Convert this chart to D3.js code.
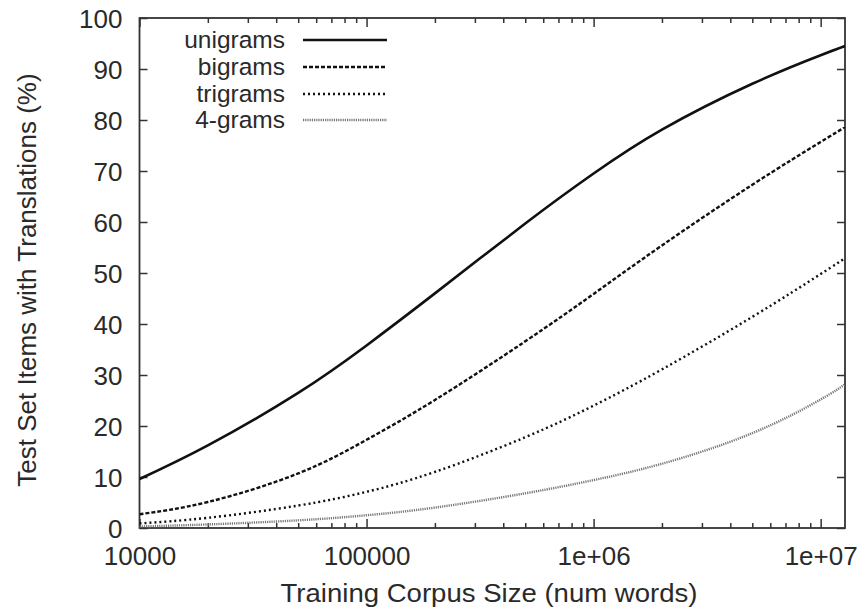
<!DOCTYPE html>
<html><head><meta charset="utf-8">
<script src="https://cdn.jsdelivr.net/npm/d3@7"></script>
<style>body{margin:0;background:#fff}svg{display:block}text{font-family:"Liberation Sans",Arial,Helvetica,sans-serif;fill:#2a2a2a}</style>
</head><body><svg id="c" width="866" height="611"></svg>
<script>
const sizes = [10000, 20000, 50000, 100000, 200000, 500000, 1000000, 2000000, 5000000, 10000000, 12800000];
const unigrams = [9.6, 16.2, 26.5, 35.8, 46.0, 59.7, 69.5, 78.1, 87.1, 92.7, 94.5];
const bigrams  = [2.7, 5.1, 10.7, 17.3, 25.1, 36.6, 45.9, 55.4, 67.3, 75.7, 78.6];
const trigrams = [0.9, 2.0, 4.4, 7.1, 11.0, 17.8, 24.0, 31.1, 41.4, 49.8, 52.9];
const fourgrams= [0.3, 0.7, 1.5, 2.5, 4.0, 6.8, 9.4, 12.6, 18.6, 25.2, 28.2];
const seriesNames = ["unigrams", "bigrams", "trigrams", "4-grams"];
const xMajor = [10000, 100000, 1000000, 10000000];
const xMajorLabels = ["10000", "100000", "1e+06", "1e+07"];
const yTicks = [0,10,20,30,40,50,60,70,80,90,100];

const FS = 26;
const L = 139.5, R = 845, T = 18, B = 528;
const svg = d3.select("#c");
const x = d3.scaleLog().domain([10000, 12800000]).range([L, R]);
const y = d3.scaleLinear().domain([0, 100]).range([B, T]);

const xMinor = [];
[10000, 100000, 1000000, 10000000].forEach(d => { for (let k = 2; k <= 9; k++) if (d*k <= 12800000) xMinor.push(d*k); });

const frameColor = "#333";
function styleAxis(g){ g.select(".domain").remove(); g.selectAll("line").attr("stroke", frameColor).attr("stroke-width", 1.5); }

svg.append("g").attr("transform", `translate(0,${B})`)
  .call(d3.axisBottom(x).tickValues(xMajor).tickSize(-9).tickPadding(0).tickFormat((d,i)=>xMajorLabels[i]))
  .call(styleAxis)
  .call(g => g.selectAll("text").attr("y", 37).attr("dy", 0).attr("font-size", FS).attr("fill", "#2a2a2a").attr("font-family", null));
svg.append("g").attr("transform", `translate(0,${B})`).call(d3.axisBottom(x).tickValues(xMinor).tickSize(-5).tickFormat("")).call(styleAxis);
svg.append("g").attr("transform", `translate(0,${T})`).call(d3.axisTop(x).tickValues(xMajor).tickSize(-9).tickFormat("")).call(styleAxis);
svg.append("g").attr("transform", `translate(0,${T})`).call(d3.axisTop(x).tickValues(xMinor).tickSize(-5).tickFormat("")).call(styleAxis);
svg.append("g").attr("transform", `translate(${L},0)`)
  .call(d3.axisLeft(y).tickValues(yTicks).tickSize(-8).tickPadding(0))
  .call(styleAxis)
  .call(g => g.selectAll("text").attr("x", -17).attr("dy", "0.36em").attr("font-size", FS).attr("fill", "#2a2a2a").attr("font-family", null));
svg.append("g").attr("transform", `translate(${R},0)`).call(d3.axisRight(y).tickValues(yTicks).tickSize(-8).tickFormat("")).call(styleAxis);

svg.append("rect").attr("x", L).attr("y", T).attr("width", R-L).attr("height", B-T)
  .attr("fill", "none").attr("stroke", frameColor).attr("stroke-width", 1.8);

svg.append("text").attr("transform", `translate(489,602) scale(1.06,1)`).attr("text-anchor", "middle").attr("font-size", FS).text("Training Corpus Size (num words)");
svg.append("text").attr("transform", `translate(36,280) rotate(-90)`).attr("text-anchor", "middle").attr("font-size", FS).text("Test Set Items with Translations (%)");

const styles = [
  {data: unigrams, color: "#111", width: 2.6, dash: null},
  {data: bigrams, color: "#111", width: 2.4, dash: "4,2"},
  {data: trigrams, color: "#111", width: 2.4, dash: "2,3"},
  {data: fourgrams, color: "#777", width: 2.4, dash: "1.2,1"}
];
const line = d3.line().x(d => x(d[0])).y(d => y(d[1])).curve(d3.curveNatural);
svg.append("clipPath").attr("id", "pc").append("rect").attr("x", L).attr("y", T).attr("width", R-L).attr("height", B-T);
styles.forEach(s => {
  svg.append("path").attr("clip-path", "url(#pc)")
    .attr("d", line(sizes.map((v,i)=>[v, s.data[i]])))
    .attr("fill", "none").attr("stroke", s.color).attr("stroke-width", s.width)
    .attr("stroke-dasharray", s.dash);
});

const legY = [40, 67, 94, 120];
seriesNames.forEach((n,i) => {
  svg.append("text").attr("transform", `translate(285,${legY[i]})`).attr("text-anchor", "end").attr("dy", "0.34em").attr("font-size", 24.5).text(n);
  svg.append("line").attr("x1", 303).attr("x2", 387).attr("y1", legY[i]).attr("y2", legY[i])
    .attr("stroke", styles[i].color).attr("stroke-width", styles[i].width).attr("stroke-dasharray", styles[i].dash);
});
</script></body></html>
